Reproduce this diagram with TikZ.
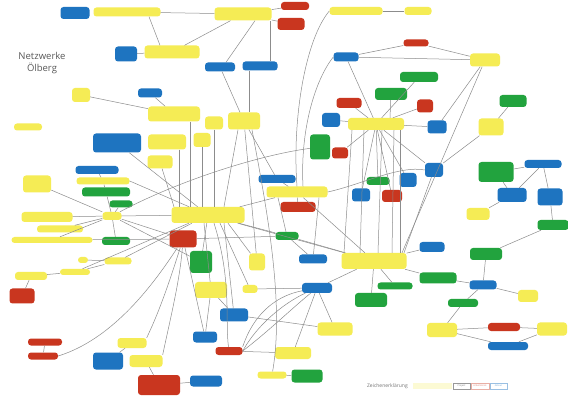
\documentclass[tikz,border=0pt]{standalone}
\usepackage{fontspec}
\newfontfamily\titlefont{Open Sans}
\definecolor{cY}{HTML}{F5EC55}
\definecolor{cB}{HTML}{1E74C0}
\definecolor{cG}{HTML}{22A33E}
\definecolor{cR}{HTML}{C9361F}
\definecolor{cL}{HTML}{8C8C8C}
\newcommand\blobnode[6]{\node[#1,minimum width=#5pt,minimum height=#6pt] (#2) at (#3,#4) {};}
\tikzset{
  blob/.style={rounded corners=3pt,inner sep=0pt,draw=none},
  Y/.style={blob,fill=cY},
  B/.style={blob,fill=cB},
  G/.style={blob,fill=cG},
  R/.style={blob,fill=cR},
  link/.style={draw=cL,line width=0.5pt},
  legbox/.style={draw,line width=0.4pt,inner sep=0pt,minimum height=6pt,font=\titlefont\fontsize{2.4}{3}\selectfont}
}
\begin{document}
\begin{tikzpicture}[x=1pt,y=-1pt]
\useasboundingbox (0,0) rectangle (568,398);
\fill[white] (0,0) rectangle (568,398);
% title
\node[align=center,text=black!65,font=\titlefont\fontsize{9.5}{12}\selectfont,inner sep=0pt] (title) at (42,63) {Netzwerke\\Ölberg};
% ---------- nodes ----------
\blobnode{B}{b1}{75}{13}{29}{12}
\blobnode{Y}{y1}{127}{12}{67}{9}
\blobnode{Y}{y2}{243}{14}{57}{13}
\blobnode{R}{r1}{295}{6}{28}{8}
\blobnode{R}{r2}{291}{24}{27}{12}
\blobnode{Y}{y3}{356}{11}{53}{8}
\blobnode{Y}{y4}{418}{11}{27}{8}
\blobnode{B}{b2}{126}{54}{22}{15}
\blobnode{Y}{y5}{172}{52}{55}{13}
\blobnode{B}{b3}{220}{67}{30}{9}
\blobnode{B}{b4}{260}{66}{35}{9}
\blobnode{B}{b5}{346}{57}{25}{9}
\blobnode{R}{r3}{416}{43}{25}{7}
\blobnode{Y}{y6}{485}{60}{30}{13}
\blobnode{G}{g1}{419}{77}{38}{10}
\blobnode{G}{g2}{391}{94}{32}{12}
\blobnode{R}{r4}{425}{106}{16}{13}
\blobnode{R}{r5}{349}{103}{25}{10}
\blobnode{G}{g3}{513}{101}{27}{12}
\blobnode{Y}{y7}{81}{95}{18}{14}
\blobnode{B}{b6}{150}{93}{24}{9}
\blobnode{Y}{y8}{174}{114}{52}{15}
\blobnode{Y}{y9}{28}{127}{28}{7}
\blobnode{Y}{y10}{214}{123}{18}{13}
\blobnode{Y}{y11}{244}{121}{32}{17}
\blobnode{B}{b7}{331}{120}{18}{14}
\blobnode{Y}{y12}{376}{124}{56}{12}
\blobnode{B}{b8}{437}{127}{19}{13}
\blobnode{Y}{y13}{491}{127}{25}{17}
\blobnode{B}{b9}{117}{143}{48}{19}
\blobnode{Y}{y14}{167}{142}{38}{15}
\blobnode{Y}{y15}{202}{140}{17}{14}
\blobnode{Y}{y16}{160}{162}{25}{13}
\blobnode{G}{g4}{320}{147}{20}{25}
\blobnode{R}{r6}{340}{153}{16}{11}
\blobnode{B}{b10}{97}{170}{43}{8}
\blobnode{B}{b11}{434}{170}{18}{14}
\blobnode{G}{g5}{496}{172}{35}{20}
\blobnode{B}{b12}{543}{164}{37}{8}
\blobnode{B}{b13}{277}{179}{37}{8}
\blobnode{G}{g6}{378}{181}{23}{8}
\blobnode{B}{b14}{408}{180}{17}{14}
\blobnode{Y}{y17}{37}{184}{28}{17}
\blobnode{Y}{y18}{103}{181}{53}{7}
\blobnode{G}{g7}{106}{192}{48}{9}
\blobnode{Y}{y19}{297}{192}{61}{11}
\blobnode{B}{b15}{361}{195}{18}{13}
\blobnode{R}{r7}{392}{196}{20}{12}
\blobnode{B}{b16}{512}{195}{29}{14}
\blobnode{B}{b17}{550}{197}{25}{17}
\blobnode{G}{g8}{121}{204}{23}{7}
\blobnode{R}{r8}{298}{207}{35}{10}
\blobnode{Y}{y20}{478}{214}{23}{12}
\blobnode{Y}{y21}{47}{217}{51}{10}
\blobnode{Y}{y22}{112}{216}{19}{8}
\blobnode{Y}{hub}{208}{215}{73}{16}
\blobnode{G}{g9}{553}{225}{31}{10}
\blobnode{Y}{y23}{60}{229}{46}{7}
\blobnode{G}{g10}{287}{236}{23}{8}
\blobnode{R}{r9}{183}{239}{27}{17}
\blobnode{Y}{y24}{52}{240}{81}{6}
\blobnode{G}{g11}{116}{241}{28}{8}
\blobnode{B}{b18}{432}{247}{25}{10}
\blobnode{G}{g12}{486}{254}{32}{12}
\blobnode{G}{g13}{201}{262}{22}{22}
\blobnode{Y}{y25}{83}{260}{10}{6}
\blobnode{Y}{y26}{118}{261}{27}{7}
\blobnode{Y}{y27}{257}{262}{16}{17}
\blobnode{B}{b19}{313}{259}{28}{9}
\blobnode{Y}{y28}{374}{261}{65}{16}
\blobnode{Y}{y29}{31}{276}{32}{8}
\blobnode{Y}{y30}{75}{272}{30}{6}
\blobnode{G}{g14}{438}{278}{37}{11}
\blobnode{B}{b20}{483}{285}{27}{9}
\blobnode{G}{g15}{395}{286}{35}{7}
\blobnode{Y}{y31}{211}{290}{32}{16}
\blobnode{Y}{y32}{250}{289}{15}{8}
\blobnode{B}{b21}{317}{288}{30}{10}
\blobnode{R}{r10}{22}{296}{25}{15}
\blobnode{Y}{y33}{528}{296}{20}{12}
\blobnode{G}{g16}{371}{300}{32}{14}
\blobnode{G}{g17}{463}{303}{30}{8}
\blobnode{B}{b22}{234}{315}{28}{13}
\blobnode{Y}{y34}{335}{329}{35}{13}
\blobnode{Y}{y35}{442}{330}{30}{14}
\blobnode{R}{r11}{504}{327}{32}{8}
\blobnode{Y}{y36}{552}{329}{30}{13}
\blobnode{B}{b23}{205}{337}{24}{11}
\blobnode{R}{r12}{45}{342}{34}{7}
\blobnode{Y}{y37}{132}{343}{29}{10}
\blobnode{B}{b24}{508}{346}{40}{8}
\blobnode{R}{r13}{229}{351}{27}{8}
\blobnode{Y}{y38}{293}{353}{36}{12}
\blobnode{R}{r14}{43}{356}{30}{7}
\blobnode{B}{b25}{108}{361}{30}{17}
\blobnode{Y}{y39}{146}{361}{33}{12}
\blobnode{Y}{y40}{272}{375}{29}{7}
\blobnode{G}{g18}{307}{376}{31}{13}
\blobnode{B}{b26}{206}{381}{32}{11}
\blobnode{R}{r15}{159}{385}{42}{20}
% ---------- connectors ----------
\begin{scope}[link]
\draw (y1) -- (y2);
\draw ([xshift=22pt]y1.south) -- ([xshift=-12pt]y5.north);
\draw (y5) -- (y2);
\draw (b2) -- (y5);
\draw (y2) -- (r1);
\draw (y2) -- (r2);
\draw ([xshift=12pt]y2.south) -- ([xshift=6pt]b3.north);
\draw ([xshift=27pt]y2.south) -- ([xshift=10pt]b4.north);
\draw (b3) -- ([xshift=-4pt]y11.north);
\draw ([xshift=-11pt]b4.south) -- ([xshift=5pt]y11.north);
\draw (y3) -- (y4);
\draw (y3.west) .. controls (305,40) and (292,120) .. (y19.north);
\draw (b5.west) .. controls (315,80) and (300,130) .. ([xshift=6pt]y19.north);
\draw (b5) -- (r3);
\draw (r3) -- (y6);
\draw (b5) -- (y6);
\draw (b5) -- (y12);
\draw (y6) -- (b8);
\draw (y6) -- ([xshift=28pt]y28.north);
\draw (g1) -- (y12);
\draw (g2) -- ([xshift=14pt]y12.north);
\draw (r4) -- (y12);
\draw (r5) -- (y12);
\draw (b7) -- (y12);
\draw (r6) -- (y12);
\draw (y12) -- (b8);
\draw (g3) -- (y13);
\draw (y13) -- (b11);
\draw (y12) -- (g6);
\draw (y12) -- (b15);
\draw (y12) -- (r7);
\draw (y12) -- (b14);
\draw (y12) -- (b11);
\draw ([xshift=-24pt]y12.south) -- ([xshift=-30pt]y28.north);
\draw ([xshift=-12pt]y12.south) -- ([xshift=-14pt]y28.north);
\draw ([xshift=6pt]y12.south) -- ([xshift=4pt]y28.north);
\draw ([xshift=18pt]y12.south) -- ([xshift=18pt]y28.north);
\draw ([xshift=24pt]y12.south) -- ([xshift=26pt]y28.north);
\draw (y19.east) .. controls (360,185) and (400,165) .. (b11.west);
\draw (b11) -- ([xshift=30pt]y28.north);
\draw (b6) -- (y8);
\draw (y7) -- (y8);
\draw ([xshift=16pt]y8.south) -- ([xshift=-18pt]hub.north);
\draw (y10) -- ([xshift=6pt]hub.north);
\draw (y15) -- ([xshift=-6pt]hub.north);
\draw ([xshift=12pt]y14.south) -- ([xshift=-29pt]hub.north);
\draw (y16) -- ([xshift=-34pt]hub.north);
\draw (b9) -- (hub);
\draw (y18.east) -- (hub);
\draw ([xshift=-6pt]y11.south) -- ([xshift=16pt]hub.north);
\draw (y11) -- (b13);
\draw ([xshift=8pt]y11.south) .. controls (265,200) and (285,300) .. (y40);
\draw (y11) -- (y27);
\draw (hub) -- (y19);
\draw (hub) -- (g10);
\draw (hub) -- (y28);
\draw (b13) -- (y19);
\draw ([xshift=-19pt]y19.south) -- (g10);
\draw ([xshift=22pt]y19.south) -- (b19);
\draw (y19) -- (y28);
\draw (y19) -- (r8);
\draw (g10) -- (y28);
\draw (g10) -- (b19);
\draw (b10) -- (y18);
\draw (y18) -- (g7);
\draw (g7) -- (y22);
\draw (g8) -- (y22);
\draw (y17) -- (y22);
\draw (y22) -- (y21);
\draw (y22) -- (y23);
\draw (y22) -- (y24);
\draw (y22) -- (g11);
\draw (y22) -- (hub);
\draw (y22) -- (r9);
\draw (y22) -- (g13);
\draw (y22) .. controls (180,180) and (260,155) .. (g4);
\draw (r9) -- (g10);
\draw (hub) -- (y26);
\draw (hub) -- (y30);
\draw (r9) -- (y24);
\draw (hub) -- (g13);
\draw ([xshift=-4pt]hub.south) -- (y31);
\draw ([xshift=20pt]hub.south) -- (y27);
\draw ([xshift=12pt]hub.south) -- (y32);
\draw ([xshift=16pt]hub.south) -- (b22);
\draw (r9) -- (b23);
\draw ([xshift=6pt]hub.south) .. controls (232,280) and (225,320) .. (r13);
\draw (y25) -- (y26);
\draw (y30) -- (y26);
\draw (y29) -- (y30);
\draw (y29) -- (r10);
\draw (r12) -- (r14);
\draw (r14.east) .. controls (110,340) and (150,290) .. (r9);
\draw (y37) -- (b25);
\draw (y37.north east) .. controls (160,310) and (170,280) .. (r9);
\draw (y39.north east) .. controls (170,320) and (180,280) .. (r9);
\draw (y39) -- (r15);
\draw (r15) -- (b26);
\draw (y31) -- (b23);
\draw (y31) -- (b22);
\draw (y32) -- (b21);
\draw (b21) -- (y28);
\draw (b21) -- (y34);
\draw (b22) -- (y34);
\draw (r13) -- (y38);
\draw (r13.east) .. controls (270,330) and (290,310) .. (b21);
\draw (r13.east) .. controls (260,320) and (290,300) .. (b21);
\draw (r13.north east) .. controls (255,310) and (280,295) .. (b21);
\draw (y38) -- (b21);
\draw (y40) -- (g18);
\draw (y28) -- (g16);
\draw (y28) -- (g15);
\draw (y28) -- (g14);
\draw (y28) -- (b18);
\draw (g14) -- (b20);
\draw (b20) -- (y33);
\draw (g12) -- (b20);
\draw (b20) -- (g17);
\draw (g17) -- (y35);
\draw (y35) -- (r11);
\draw (r11) -- (y36);
\draw (y35) -- (b24);
\draw (b24) -- (y36);
\draw (g5) -- (b12);
\draw (b12) -- (b16);
\draw (b12) -- (b17);
\draw (g5) -- (b16);
\draw (b16) -- (y20);
\draw (b17) -- (g9);
\draw (g9) -- (g12);
\end{scope}
% ---------- legend ----------
\node[anchor=east,text=black!55,font=\titlefont\fontsize{5}{6}\selectfont,inner sep=0pt] (legt) at (408,386) {Zeichenerklärung};
\node[fill=cY!25,minimum width=39pt,minimum height=6pt,inner sep=0pt] (leg0) at (432.5,386) {};
\node[legbox,draw=black!40,text=black!50,minimum width=17pt] (leg1) at (461.5,386) {Projekt};
\node[legbox,draw=cR!40,text=cR!60,minimum width=18pt] (leg2) at (480,386) {Arbeitskreis};
\node[legbox,draw=cB!45,text=cB!60,minimum width=17pt] (leg3) at (498.5,386) {Akteur};
\end{tikzpicture}
\end{document}
